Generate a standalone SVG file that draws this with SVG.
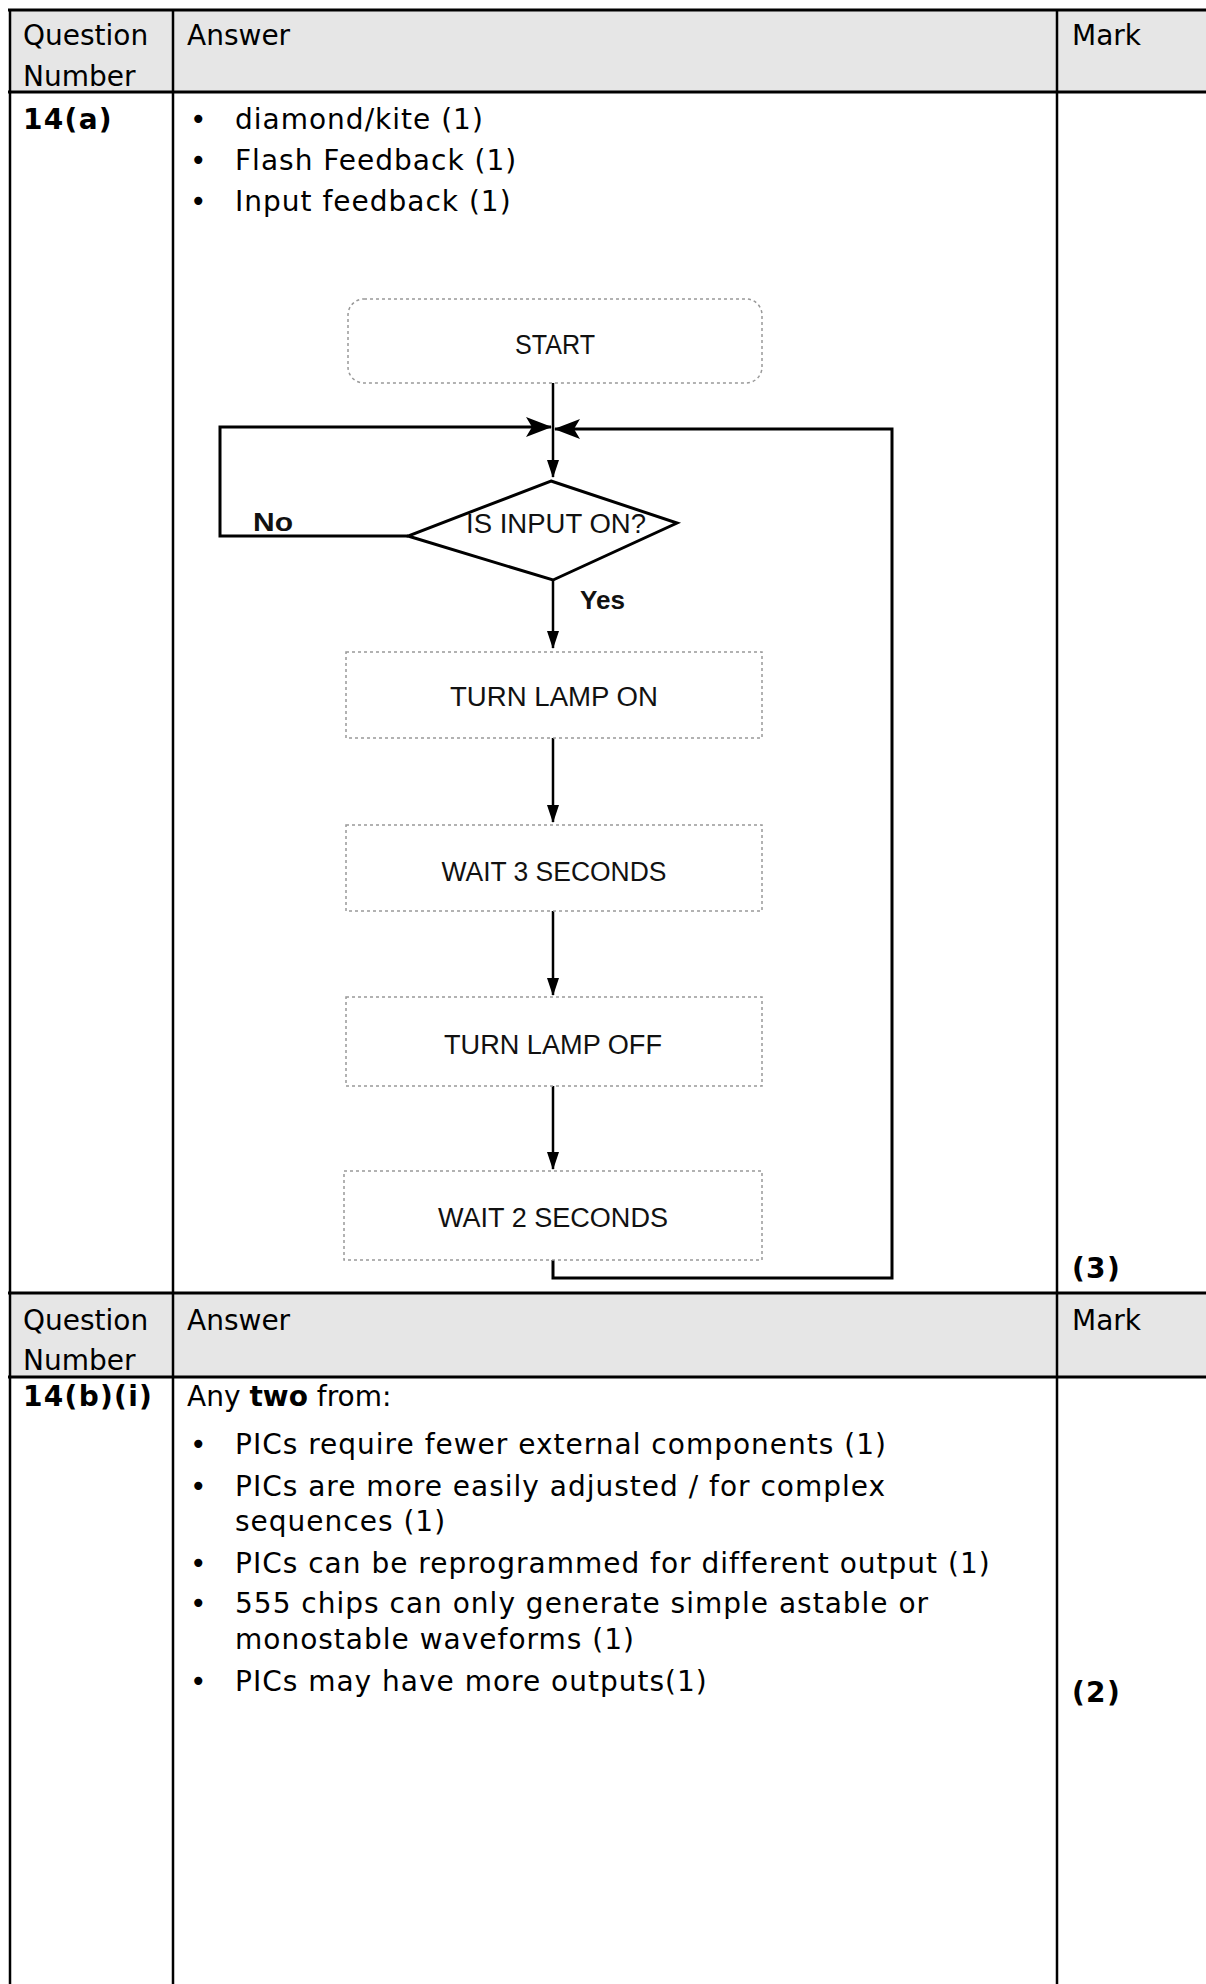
<svg xmlns="http://www.w3.org/2000/svg" width="1206" height="1984" viewBox="0 0 1206 1984">
<defs>
<marker id="ah" markerWidth="18" markerHeight="14" refX="17" refY="7" orient="auto" markerUnits="userSpaceOnUse">
<path d="M0,1 L18,7 L0,13 Z" fill="#000"/>
</marker>
<marker id="ahb" markerWidth="26" markerHeight="22" refX="25" refY="11" orient="auto" markerUnits="userSpaceOnUse">
<path d="M0,1 L26,11 L0,21 L6,11 Z" fill="#000"/>
</marker>
<style>
.t{font-family:"DejaVu Sans",Verdana,sans-serif;font-size:28px;fill:#000}
.li{letter-spacing:1px}
.b{font-weight:bold}
.lb{letter-spacing:1.3px}
.hdr{fill:#e6e6e6}
.grid{stroke:#000;stroke-width:3;fill:none}
.fc{font-family:"Liberation Sans",Arial,sans-serif;font-size:27px;fill:#111;text-anchor:middle}
.fb{font-family:"Liberation Sans",Arial,sans-serif;font-size:25px;font-weight:bold;fill:#111}
.box{fill:#fff;stroke:#999;stroke-width:1.5;stroke-dasharray:3 3}
.ln{stroke:#000;stroke-width:2.5;fill:none}
.lnk{stroke:#000;stroke-width:3;fill:none}
</style>
</defs>
<rect width="1206" height="1984" fill="#fff"/>

<g id="table">
<rect class="hdr" x="10" y="10" width="1196" height="82"/>
<rect class="hdr" x="10" y="1293" width="1196" height="84"/>
<line class="grid" x1="8" y1="10" x2="1206" y2="10"/>
<line class="grid" x1="8" y1="92" x2="1206" y2="92"/>
<line class="grid" x1="8" y1="1293" x2="1206" y2="1293"/>
<line class="grid" x1="8" y1="1377" x2="1206" y2="1377"/>
<line class="grid" x1="10" y1="9" x2="10" y2="1984" style="stroke-width:2.5"/>
<line class="grid" x1="173" y1="9" x2="173" y2="1984" style="stroke-width:2.5"/>
<line class="grid" x1="1057" y1="9" x2="1057" y2="1984" style="stroke-width:2.5"/>

<text class="t" x="23" y="45">Question</text>
<text class="t" x="23" y="86">Number</text>
<text class="t" x="187" y="45">Answer</text>
<text class="t" x="1072" y="45">Mark</text>

<text class="t b lb" x="23" y="129">14(a)</text>
<text class="t" x="190" y="129">•</text>
<text class="t li" x="235" y="129">diamond/kite (1)</text>
<text class="t" x="190" y="170">•</text>
<text class="t li" x="235" y="170">Flash Feedback (1)</text>
<text class="t" x="190" y="211">•</text>
<text class="t li" x="235" y="211">Input feedback (1)</text>
<text class="t b lb" x="1072" y="1278">(3)</text>

<text class="t" x="23" y="1330">Question</text>
<text class="t" x="23" y="1370">Number</text>
<text class="t" x="187" y="1330">Answer</text>
<text class="t" x="1072" y="1330">Mark</text>

<text class="t b lb" x="23" y="1406">14(b)(i)</text>
<text class="t" x="187" y="1406">Any <tspan class="b">two</tspan> from:</text>
<text class="t" x="190" y="1454">•</text>
<text class="t li" x="235" y="1454">PICs require fewer external components (1)</text>
<text class="t" x="190" y="1496">•</text>
<text class="t li" x="235" y="1496">PICs are more easily adjusted / for complex</text>
<text class="t li" x="235" y="1531">sequences (1)</text>
<text class="t" x="190" y="1573">•</text>
<text class="t li" x="235" y="1573">PICs can be reprogrammed for different output (1)</text>
<text class="t" x="190" y="1613">•</text>
<text class="t li" x="235" y="1613">555 chips can only generate simple astable or</text>
<text class="t li" x="235" y="1649">monostable waveforms (1)</text>
<text class="t" x="190" y="1691">•</text>
<text class="t li" x="235" y="1691">PICs may have more outputs(1)</text>
<text class="t b lb" x="1072" y="1702">(2)</text>
</g>

<g id="connectors">
<line class="ln" x1="553" y1="383" x2="553" y2="477" marker-end="url(#ah)"/>
<polyline class="lnk" points="408,536 220,536 220,427 551,427" marker-end="url(#ahb)"/>
<polyline class="lnk" points="553,1260 553,1278 892,1278 892,429 555,429" marker-end="url(#ahb)"/>
<line class="ln" x1="553" y1="580" x2="553" y2="648" marker-end="url(#ah)"/>
<line class="ln" x1="553" y1="738" x2="553" y2="822" marker-end="url(#ah)"/>
<line class="ln" x1="553" y1="911" x2="553" y2="995" marker-end="url(#ah)"/>
<line class="ln" x1="553" y1="1086" x2="553" y2="1169" marker-end="url(#ah)"/>
<text class="fb" x="253" y="531" textLength="40" lengthAdjust="spacingAndGlyphs">No</text>
<text class="fb" x="580" y="609" textLength="45" lengthAdjust="spacingAndGlyphs">Yes</text>
</g>

<g id="start">
<rect class="box" x="348" y="299" width="414" height="84" rx="16"/>
<text class="fc" x="555" y="354" textLength="80" lengthAdjust="spacingAndGlyphs">START</text>
</g>
<g id="decision">
<polygon points="551,481 677,523 553,580 408,536" fill="#fff" stroke="#000" stroke-width="3"/>
<text class="fc" x="556" y="533" textLength="180" lengthAdjust="spacingAndGlyphs">IS INPUT ON?</text>
</g>
<g id="lamp-on">
<rect class="box" x="346" y="652" width="416" height="86"/>
<text class="fc" x="554" y="706" textLength="208" lengthAdjust="spacingAndGlyphs">TURN LAMP ON</text>
</g>
<g id="wait3">
<rect class="box" x="346" y="825" width="416" height="86"/>
<text class="fc" x="554" y="881" textLength="225" lengthAdjust="spacingAndGlyphs">WAIT 3 SECONDS</text>
</g>
<g id="lamp-off">
<rect class="box" x="346" y="997" width="416" height="89"/>
<text class="fc" x="553" y="1054" textLength="218" lengthAdjust="spacingAndGlyphs">TURN LAMP OFF</text>
</g>
<g id="wait2">
<rect class="box" x="344" y="1171" width="418" height="89"/>
<text class="fc" x="553" y="1227" textLength="230" lengthAdjust="spacingAndGlyphs">WAIT 2 SECONDS</text>
</g>
</svg>
